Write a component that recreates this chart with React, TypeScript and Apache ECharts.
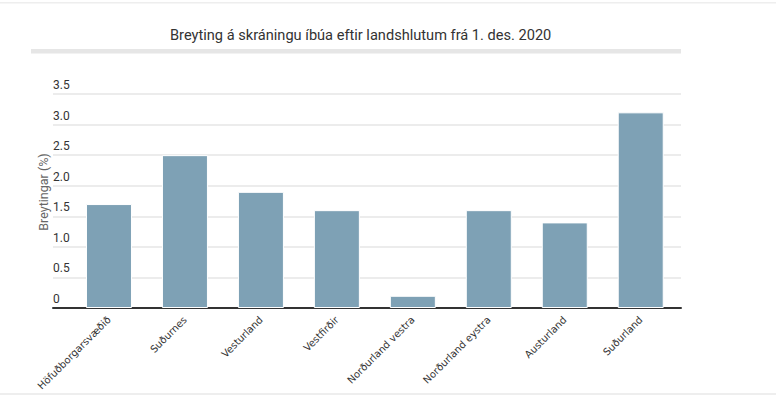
import React, { useEffect, useRef } from "react";
import * as echarts from "echarts";

const categories = [
  "Höfuðborgarsvæðið",
  "Suðurnes",
  "Vesturland",
  "Vestfirðir",
  "Norðurland vestra",
  "Norðurland eystra",
  "Austurland",
  "Suðurland",
];
const values = [1.7, 2.5, 1.9, 1.6, 0.2, 1.6, 1.4, 3.2];
const titleText = "Breyting á skráningu íbúa eftir landshlutum frá 1. des. 2020";
const yAxisName = "Breytingar (%)";

export default function App() {
  const ref = useRef<HTMLDivElement>(null);
  useEffect(() => {
    const chart = echarts.init(ref.current!, null, { renderer: "svg" });
    chart.setOption({
      animation: false,
      title: {
        text: titleText,
        left: 165,
        top: 22,
        textStyle: { fontFamily: "Roboto", fontSize: 14.6, fontWeight: "normal", color: "#333" },
      },
      graphic: [
        { type: "rect", shape: { x: 0, y: 2, width: 776, height: 1.5 }, style: { fill: "#eeeeee" }, silent: true },
        { type: "rect", shape: { x: 31, y: 49, width: 650, height: 4.5 }, style: { fill: "#e6e6e6" }, silent: true },
        { type: "rect", shape: { x: 0, y: 393, width: 776, height: 2 }, style: { fill: "#eeeeee" }, silent: true },
        {
          type: "text",
          x: 43,
          y: 192,
          rotation: Math.PI / 2,
          style: {
            text: yAxisName,
            fontFamily: "Roboto",
            fontSize: 12.5,
            fill: "#666",
            align: "center",
            verticalAlign: "middle",
          },
        },
      ],
      grid: [
        { left: 53, right: 95, top: 94, bottom: 91 },
        { left: 71, right: 97.3, top: 94, bottom: 91 },
      ],
      xAxis: [
        {
          gridIndex: 0,
          type: "value",
          min: 0,
          max: 1,
          axisLine: { show: true, lineStyle: { color: "#333", width: 2 } },
          axisTick: { show: false },
          axisLabel: { show: false },
          splitLine: { show: false },
        },
        {
          gridIndex: 1,
          type: "category",
          data: categories,
          axisLine: { show: false },
          axisTick: { show: false },
          axisLabel: {
            rotate: 45,
            margin: 10,
            interval: 0,
            fontFamily: "DejaVu Sans",
            fontSize: 10,
            color: "#333",
          },
        },
      ],
      yAxis: [
        {
          gridIndex: 0,
          type: "value",
          min: 0,
          max: 3.5,
          interval: 0.5,
          axisLine: { show: false },
          axisTick: { show: false },
          splitLine: { show: true, lineStyle: { color: "#e6e6e6", width: 1.5 } },
          axisLabel: {
            inside: true,
            margin: 0,
            align: "left",
            verticalAlign: "bottom",
            padding: [0, 0, 3, 0],
            fontFamily: "Roboto",
            fontSize: 12,
            color: "#333",
            formatter: (v: number) => (v === 0 ? "0" : v.toFixed(1)),
          },
        },
        {
          gridIndex: 1,
          type: "value",
          min: 0,
          max: 3.5,
          show: false,
          splitLine: { show: false },
        },
      ],
      series: [
        {
          type: "bar",
          xAxisIndex: 1,
          yAxisIndex: 1,
          data: values,
          barWidth: 46,
          itemStyle: { color: "#7ea1b5", borderColor: "#ffffff", borderWidth: 1 },
        },
      ],
    });
    return () => chart.dispose();
  }, []);
  return <div ref={ref} style={{ width: 776, height: 399, position: "absolute", left: 0, top: 0 }} />;
}
